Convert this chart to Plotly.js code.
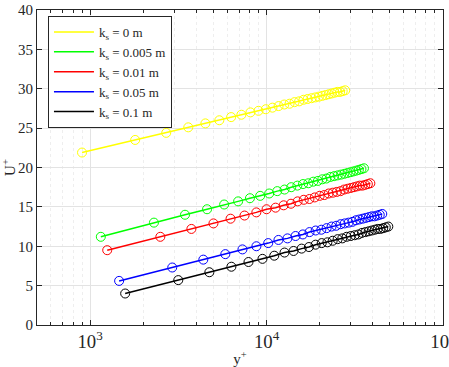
<!DOCTYPE html>
<html>
<head>
<meta charset="utf-8">
<script src="https://cdn.plot.ly/plotly-3.0.1.min.js"></script>
<style>
  html, body { margin: 0; padding: 0; background: #fff; }
  #chart { width: 449px; height: 367px; }
</style>
</head>
<body>
<div id="chart"></div>
<script>
// Velocity profiles U+ against y+ for several roughness heights k_s
const seriesNames = ['k<sub>s</sub> = 0 m', 'k<sub>s</sub> = 0.005 m', 'k<sub>s</sub> = 0.01 m',
                     'k<sub>s</sub> = 0.05 m', 'k<sub>s</sub> = 0.1 m'];
const seriesColors = ['#ffff00', '#00ff00', '#ff0000', '#0000ff', '#000000'];

const yPlus0 = [900, 1800, 2700, 3600, 4500, 5400, 6300, 7200, 8100, 9000, 9900, 10800, 11700, 12600,
  13500, 14400, 15300, 16200, 17100, 18000, 18900, 19800, 20700, 21600, 22500, 23400, 24300, 25200,
  26100, 27000, 27900];
const uPlus0 = [21.9, 23.5, 24.4, 25.1, 25.6, 26.0, 26.4, 26.7, 27.0, 27.2, 27.4, 27.6, 27.8, 28.0,
  28.1, 28.3, 28.4, 28.6, 28.7, 28.8, 28.9, 29.0, 29.1, 29.2, 29.3, 29.4, 29.5, 29.6, 29.6, 29.7, 29.8];

const yPlus005 = [1150, 2300, 3450, 4600, 5750, 6900, 8050, 9200, 10350, 11500, 12650, 13800, 14950,
  16100, 17250, 18400, 19550, 20700, 21850, 23000, 24150, 25300, 26450, 27600, 28750, 29900, 31050,
  32200, 33350, 34500, 35650];
const uPlus005 = [11.2, 13.0, 14.0, 14.7, 15.3, 15.7, 16.1, 16.4, 16.7, 17.0, 17.2, 17.5, 17.7, 17.9,
  18.0, 18.2, 18.3, 18.5, 18.6, 18.8, 18.9, 19.0, 19.1, 19.2, 19.3, 19.4, 19.5, 19.6, 19.7, 19.8, 19.9];

const yPlus01 = [1250, 2500, 3750, 5000, 6250, 7500, 8750, 10000, 11250, 12500, 13750, 15000, 16250,
  17500, 18750, 20000, 21250, 22500, 23750, 25000, 26250, 27500, 28750, 30000, 31250, 32500, 33750,
  35000, 36250, 37500, 38750];
const uPlus01 = [9.5, 11.2, 12.2, 12.9, 13.5, 13.9, 14.3, 14.7, 14.9, 15.2, 15.4, 15.7, 15.9, 16.0,
  16.2, 16.4, 16.5, 16.7, 16.8, 16.9, 17.0, 17.2, 17.3, 17.4, 17.5, 17.6, 17.7, 17.7, 17.8, 17.9, 18.0];

const yPlus05 = [1460, 2920, 4380, 5840, 7300, 8760, 10220, 11680, 13140, 14600, 16060, 17520, 18980,
  20440, 21900, 23360, 24820, 26280, 27740, 29200, 30660, 32120, 33580, 35040, 36500, 37960, 39420,
  40880, 42340, 43800, 45260];
const uPlus05 = [5.6, 7.3, 8.3, 9.0, 9.6, 10.0, 10.4, 10.8, 11.0, 11.3, 11.5, 11.8, 12.0, 12.1,
  12.3, 12.5, 12.6, 12.8, 12.9, 13.0, 13.1, 13.3, 13.4, 13.5, 13.6, 13.7, 13.8, 13.8, 13.9, 14.0, 14.1];

const yPlus1 = [1580, 3160, 4740, 6320, 7900, 9480, 11060, 12640, 14220, 15800, 17380, 18960, 20540,
  22120, 23700, 25280, 26860, 28440, 30020, 31600, 33180, 34760, 36340, 37920, 39500, 41080, 42660,
  44240, 45820, 47400, 48980];
const uPlus1 = [4.0, 5.7, 6.7, 7.4, 8.0, 8.4, 8.8, 9.2, 9.4, 9.7, 9.9, 10.2, 10.4, 10.5,
  10.7, 10.9, 11.0, 11.2, 11.3, 11.4, 11.5, 11.7, 11.8, 11.9, 12.0, 12.1, 12.2, 12.2, 12.3, 12.4, 12.5];

const xSets = [yPlus0, yPlus005, yPlus01, yPlus05, yPlus1];
const ySets = [uPlus0, uPlus005, uPlus01, uPlus05, uPlus1];

const serif = '"Liberation Serif", "Times New Roman", serif';
const ink = '#262626';
const traces = [];
// fitted lines (shown in the legend)
xSets.forEach((xs, i) => {
  traces.push({
    x: xs, y: ySets[i], type: 'scatter', mode: 'lines',
    name: seriesNames[i],
    line: { color: seriesColors[i], width: 1.5 },
    showlegend: true, hoverinfo: 'skip'
  });
});
// sampled values as open circles
xSets.forEach((xs, i) => {
  traces.push({
    x: xs, y: ySets[i], type: 'scatter', mode: 'markers',
    marker: { symbol: 'circle-open', size: 9, color: seriesColors[i], line: { width: 1 } },
    showlegend: false
  });
});

const gridMajor = '#e3e3e3';
const gridMinor = '#eeeeee';
const layout = {
  width: 449, height: 367,
  margin: { l: 37, r: 6, t: 10, b: 42 },
  paper_bgcolor: '#ffffff', plot_bgcolor: '#ffffff',
  font: { family: serif, size: 15, color: ink },
  showlegend: true,
  legend: {
    x: 0.027, y: 0.981, xanchor: 'left', yanchor: 'top',
    bgcolor: '#ffffff', bordercolor: ink, borderwidth: 1,
    font: { family: serif, size: 13, color: ink },
    itemwidth: 40,
    tracegroupgap: 0
  },
  xaxis: {
    type: 'log', range: [Math.log10(500), 5],
    dtick: 1, exponentformat: 'power',
    tickfont: { family: serif, size: 15, color: ink },
    ticklabeloverflow: 'allow',
    ticks: 'inside', ticklen: 5, tickcolor: ink,
    showline: true, linecolor: ink, linewidth: 1, mirror: 'ticks',
    showgrid: true, gridcolor: gridMajor, gridwidth: 1,
    zeroline: false,
    minor: { dtick: 'D1', ticks: 'inside', ticklen: 3, tickcolor: ink,
             showgrid: true, gridcolor: gridMinor, griddash: 'dot' },
    title: { text: 'y<sup>+</sup>', font: { family: serif, size: 15, color: ink }, standoff: 6 }
  },
  yaxis: {
    range: [0, 40], dtick: 5,
    tickfont: { family: serif, size: 15, color: ink },
    ticks: 'inside', ticklen: 5, tickcolor: ink,
    showline: true, linecolor: ink, linewidth: 1, mirror: 'ticks',
    showgrid: true, gridcolor: gridMajor, gridwidth: 1,
    zeroline: false,
    title: { text: 'U<sup>+</sup>', font: { family: serif, size: 15, color: ink }, standoff: 4 }
  }
};

Plotly.newPlot('chart', traces, layout, { displayModeBar: false, staticPlot: true });
</script>
</body>
</html>
